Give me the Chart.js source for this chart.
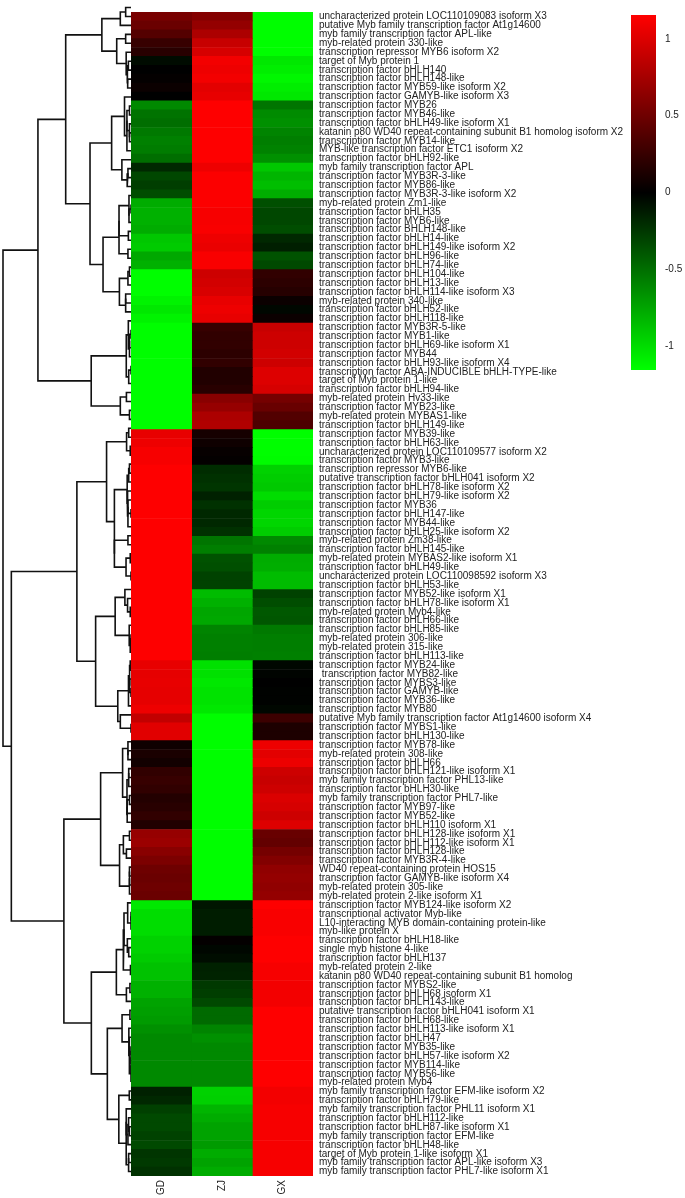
<!DOCTYPE html>
<html>
<head>
<meta charset="utf-8">
<script src="https://cdn.jsdelivr.net/npm/chart.js@4.4.1/dist/chart.umd.min.js"></script>
<style>
  body { margin: 0; background: #fff; }
  #wrap { position: relative; width: 685px; height: 1198px; overflow: hidden; }
  canvas { position: absolute; }
</style>
</head>
<body>
<div id="wrap">
  <canvas id="dendro" width="132" height="1198" style="left:0;top:0"></canvas>
  <canvas id="heat" width="554" height="1198" style="left:131px;top:0"></canvas>
  <canvas id="cbar" width="60" height="400" style="left:625px;top:0"></canvas>
</div>
<script>
// ==============================
// DATA
// ==============================
const sampleNames = ["GD", "ZJ", "GX"];

const geneNames = [
  "uncharacterized protein LOC110109083 isoform X3",
  "putative Myb family transcription factor At1g14600",
  "myb family transcription factor APL-like",
  "myb-related protein 330-like",
  "transcription repressor MYB6 isoform X2",
  "target of Myb protein 1",
  "transcription factor bHLH140",
  "transcription factor bHLH148-like",
  "transcription factor MYB59-like isoform X2",
  "transcription factor GAMYB-like isoform X3",
  "transcription factor MYB26",
  "transcription factor MYB46-like",
  "transcription factor bHLH49-like isoform X1",
  "katanin p80 WD40 repeat-containing subunit B1 homolog isoform X2",
  "transcription factor MYB14-like",
  "MYB-like transcription factor ETC1 isoform X2",
  "transcription factor bHLH92-like",
  "myb family transcription factor APL",
  "transcription factor MYB3R-3-like",
  "transcription factor MYB86-like",
  "transcription factor MYB3R-3-like isoform X2",
  "myb-related protein Zm1-like",
  "transcription factor bHLH35",
  "transcription factor MYB6-like",
  "transcription factor BHLH148-like",
  "transcription factor bHLH14-like",
  "transcription factor bHLH149-like isoform X2",
  "transcription factor bHLH96-like",
  "transcription factor bHLH74-like",
  "transcription factor bHLH104-like",
  "transcription factor bHLH13-like",
  "transcription factor bHLH114-like isoform X3",
  "myb-related protein 340-like",
  "transcription factor bHLH52-like",
  "transcription factor bHLH118-like",
  "transcription factor MYB3R-5-like",
  "transcription factor MYB1-like",
  "transcription factor bHLH69-like isoform X1",
  "transcription factor MYB44",
  "transcription factor bHLH93-like isoform X4",
  "transcription factor ABA-INDUCIBLE bHLH-TYPE-like",
  "target of Myb protein 1-like",
  "transcription factor bHLH94-like",
  "myb-related protein Hv33-like",
  "transcription factor MYB23-like",
  "myb-related protein MYBAS1-like",
  "transcription factor bHLH149-like",
  "transcription factor MYB39-like",
  "transcription factor bHLH63-like",
  "uncharacterized protein LOC110109577 isoform X2",
  "transcription factor MYB3-like",
  "transcription repressor MYB6-like",
  "putative transcription factor bHLH041 isoform X2",
  "transcription factor bHLH78-like isoform X2",
  "transcription factor bHLH79-like isoform X2",
  "transcription factor MYB36",
  "transcription factor bHLH147-like",
  "transcription factor MYB44-like",
  "transcription factor bHLH25-like isoform X2",
  "myb-related protein Zm38-like",
  "transcription factor bHLH145-like",
  "myb-related protein MYBAS2-like isoform X1",
  "transcription factor bHLH49-like",
  "uncharacterized protein LOC110098592 isoform X3",
  "transcription factor bHLH53-like",
  "transcription factor MYB52-like isoform X1",
  "transcription factor bHLH78-like isoform X1",
  "myb-related protein Myb4-like",
  "transcription factor bHLH66-like",
  "transcription factor bHLH85-like",
  "myb-related protein 306-like",
  "myb-related protein 315-like",
  "transcription factor bHLH113-like",
  "transcription factor MYB24-like",
  " transcription factor MYB82-like",
  "transcription factor MYBS3-like",
  "transcription factor GAMYB-like",
  "transcription factor MYB36-like",
  "transcription factor MYB80",
  "putative Myb family transcription factor At1g14600 isoform X4",
  "transcription factor MYBS1-like",
  "transcription factor bHLH130-like",
  "transcription factor MYB78-like",
  "myb-related protein 308-like",
  "transcription factor bHLH66",
  "transcription factor bHLH121-like isoform X1",
  "myb family transcription factor PHL13-like",
  "transcription factor bHLH30-like",
  "myb family transcription factor PHL7-like",
  "transcription factor MYB97-like",
  "transcription factor MYB52-like",
  "transcription factor bHLH110 isoform X1",
  "transcription factor bHLH128-like isoform X1",
  "transcription factor bHLH112-like isoform X1",
  "transcription factor bHLH128-like",
  "transcription factor MYB3R-4-like",
  "WD40 repeat-containing protein HOS15",
  "transcription factor GAMYB-like isoform X4",
  "myb-related protein 305-like",
  "myb-related protein 2-like isoform X1",
  "transcription factor MYB124-like isoform X2",
  "transcriptional activator Myb-like",
  "L10-interacting MYB domain-containing protein-like",
  "myb-like protein X",
  "transcription factor bHLH18-like",
  "single myb histone 4-like",
  "transcription factor bHLH137",
  "myb-related protein 2-like",
  "katanin p80 WD40 repeat-containing subunit B1 homolog",
  "transcription factor MYBS2-like",
  "transcription factor bHLH68 isoform X1",
  "transcription factor bHLH143-like",
  "putative transcription factor bHLH041 isoform X1",
  "transcription factor bHLH68-like",
  "transcription factor bHLH113-like isoform X1",
  "transcription factor bHLH47",
  "transcription factor MYB35-like",
  "transcription factor bHLH57-like isoform X2",
  "transcription factor MYB114-like",
  "transcription factor MYB56-like",
  "myb-related protein Myb4",
  "myb family transcription factor EFM-like isoform X2",
  "transcription factor bHLH79-like",
  "myb family transcription factor PHL11 isoform X1",
  "transcription factor bHLH112-like",
  "transcription factor bHLH87-like isoform X1",
  "myb family transcription factor EFM-like",
  "transcription factor bHLH48-like",
  "target of Myb protein 1-like isoform X1",
  "myb family transcription factor APL-like isoform X3",
  "myb family transcription factor PHL7-like isoform X1"
];

const gdValues = [
  0.55, 0.48, 0.38, 0.25, 0.18, -0.05, 0.00, 0.02, 0.05, 0.00,
  -0.62, -0.52, -0.50, -0.55, -0.58, -0.56, -0.50, -0.18, -0.32, -0.28,
  -0.35, -0.78, -0.80, -0.80, -0.78, -0.90, -0.92, -0.76, -0.80, -1.15,
  -1.15, -1.15, -1.10, -1.05, -1.10, -1.15, -1.15, -1.15, -1.15, -1.15,
  -1.15, -1.15, -1.15, -1.15, -1.15, -1.15, -1.15, 1.05, 1.08, 1.12,
  1.12, 1.15, 1.15, 1.15, 1.15, 1.15, 1.15, 1.15, 1.15, 1.15,
  1.15, 1.15, 1.15, 1.15, 1.15, 1.15, 1.15, 1.15, 1.15, 1.15,
  1.15, 1.15, 1.15, 1.05, 1.04, 1.05, 1.04, 1.04, 1.08, 0.88,
  1.02, 1.02, 0.07, 0.12, 0.08, 0.22, 0.25, 0.22, 0.16, 0.18,
  0.22, 0.15, 0.68, 0.70, 0.62, 0.56, 0.50, 0.48, 0.50, 0.48,
  -1.05, -1.00, -1.00, -1.00, -0.95, -0.95, -0.92, -0.88, -0.88, -0.80,
  -0.80, -0.74, -0.72, -0.70, -0.65, -0.62, -0.62, -0.62, -0.62, -0.62,
  -0.62, -0.15, -0.18, -0.29, -0.33, -0.33, -0.30, -0.33, -0.24, -0.26,
  -0.22
];

const zjValues = [
  0.60, 0.67, 0.78, 0.90, 0.97, 1.10, 1.08, 1.10, 1.03, 1.05,
  1.15, 1.15, 1.15, 1.15, 1.15, 1.15, 1.15, 1.08, 1.14, 1.14,
  1.14, 1.14, 1.12, 1.12, 1.13, 1.08, 1.06, 1.13, 1.13, 0.93,
  0.95, 0.98, 1.05, 1.08, 1.05, 0.25, 0.22, 0.22, 0.20, 0.22,
  0.15, 0.15, 0.18, 0.62, 0.68, 0.78, 0.80, 0.10, 0.07, 0.03,
  0.02, -0.20, -0.22, -0.24, -0.15, -0.22, -0.18, -0.18, -0.22, -0.53,
  -0.57, -0.37, -0.36, -0.30, -0.30, -0.85, -0.80, -0.75, -0.76, -0.60,
  -0.58, -0.58, -0.57, -1.02, -1.02, -1.05, -1.03, -1.03, -1.05, -1.15,
  -1.15, -1.15, -1.15, -1.15, -1.15, -1.15, -1.15, -1.15, -1.15, -1.15,
  -1.15, -1.15, -1.15, -1.15, -1.15, -1.15, -1.15, -1.15, -1.15, -1.15,
  -0.10, -0.13, -0.13, -0.13, 0.02, -0.03, -0.06, -0.15, -0.16, -0.26,
  -0.28, -0.33, -0.48, -0.48, -0.60, -0.65, -0.62, -0.62, -0.62, -0.62,
  -0.62, -0.95, -0.94, -0.82, -0.78, -0.74, -0.74, -0.70, -0.78, -0.74,
  -0.78
];

const gxValues = [
  -1.15, -1.15, -1.15, -1.15, -1.15, -1.05, -1.08, -1.12, -1.08, -1.05,
  -0.53, -0.63, -0.65, -0.60, -0.57, -0.59, -0.65, -0.90, -0.82, -0.86,
  -0.79, -0.36, -0.32, -0.32, -0.35, -0.18, -0.14, -0.37, -0.33, 0.22,
  0.20, 0.17, 0.05, -0.03, 0.05, 0.90, 0.93, 0.93, 0.95, 0.93,
  1.00, 1.00, 0.97, 0.53, 0.47, 0.37, 0.35, -1.15, -1.15, -1.15,
  -1.14, -0.95, -0.93, -0.91, -1.00, -0.93, -0.97, -0.97, -0.93, -0.62,
  -0.58, -0.78, -0.79, -0.85, -0.85, -0.30, -0.35, -0.40, -0.39, -0.55,
  -0.57, -0.57, -0.58, -0.03, -0.02, 0.00, -0.01, -0.01, -0.03, 0.27,
  0.13, 0.13, 1.08, 1.03, 1.07, 0.93, 0.90, 0.93, 0.99, 0.97,
  0.93, 1.00, 0.47, 0.45, 0.53, 0.59, 0.65, 0.67, 0.65, 0.67,
  1.15, 1.13, 1.13, 1.13, 1.15, 1.15, 1.15, 1.12, 1.12, 1.10,
  1.10, 1.10, 1.15, 1.15, 1.15, 1.15, 1.15, 1.15, 1.15, 1.15,
  1.15, 1.10, 1.10, 1.12, 1.12, 1.12, 1.12, 1.12, 1.12, 1.12,
  1.12
];

const colorbarTicks = [-1, -0.5, 0, 0.5, 1];
const colorLimit = 1.155;

// ==============================
// HELPERS
// ==============================
const FONT = { family: "'Liberation Sans', Arial, sans-serif", size: 10 };
const TEXT = "#222";

function colorFor(v) {
  const t = Math.max(-1, Math.min(1, v / colorLimit));
  const c = Math.round(Math.abs(t) * 255);
  return t >= 0 ? `rgb(${c},0,0)` : `rgb(0,${c},0)`;
}

// order-preserving average linkage clustering for the row tree
function buildRowTree(rows) {
  let clusters = rows.map((r, i) => ({ members: [i], h: 0, y: i + 1 }));
  const merges = [];
  const dist = (a, b) => {
    let s = 0;
    a.members.forEach(i => b.members.forEach(j => {
      let d = 0;
      for (let k = 0; k < rows[i].length; k++) d += (rows[i][k] - rows[j][k]) ** 2;
      s += Math.sqrt(d);
    }));
    return s / (a.members.length * b.members.length);
  };
  while (clusters.length > 1) {
    let best = 0, bestD = Infinity;
    for (let i = 0; i < clusters.length - 1; i++) {
      const d = dist(clusters[i], clusters[i + 1]);
      if (d < bestD) { bestD = d; best = i; }
    }
    const a = clusters[best], b = clusters[best + 1];
    const h = Math.max(bestD, a.h, b.h);
    merges.push({ a, b, h });
    clusters.splice(best, 2, { members: a.members.concat(b.members), h, y: (a.y + b.y) / 2 });
  }
  return { merges, rootH: clusters[0].h };
}

// ==============================
// HEATMAP
// ==============================
const valueCols = [gdValues, zjValues, gxValues];

new Chart(document.getElementById("heat"), {
  type: "bar",
  data: {
    labels: geneNames,
    datasets: sampleNames.map((s, j) => ({
      label: s,
      data: geneNames.map(() => 1),
      backgroundColor: valueCols[j].map(colorFor),
      borderWidth: 0,
      barPercentage: 1,
      categoryPercentage: 1
    }))
  },
  options: {
    indexAxis: "y",
    responsive: false,
    animation: false,
    events: [],
    layout: { autoPadding: false, padding: { top: 3, left: 0, right: 0, bottom: 0 } },
    plugins: { legend: { display: false }, tooltip: { enabled: false } },
    scales: {
      x: {
        stacked: true, min: 0, max: 3,
        grid: { display: false, drawTicks: false }, border: { display: false },
        afterBuildTicks: s => { s.ticks = sampleNames.map((_, i) => ({ value: i + 0.5 })); },
        ticks: { callback: (v, i) => sampleNames[i], minRotation: 90, maxRotation: 90, font: FONT, color: TEXT, padding: 4 },
        afterFit: s => { s.height = 22; }
      },
      y: {
        stacked: true, position: "right",
        grid: { display: false, drawTicks: false }, border: { display: false },
        ticks: { autoSkip: false, font: FONT, color: TEXT, padding: 6 },
        afterFit: s => { s.width = 372; }
      }
    }
  }
});

// ==============================
// DENDROGRAM
// ==============================
const tree = buildRowTree(geneNames.map((_, i) => [gdValues[i], zjValues[i], gxValues[i]]));

new Chart(document.getElementById("dendro"), {
  type: "scatter",
  data: {
    datasets: tree.merges.map(m => ({
      data: [
        { x: m.a.h, y: m.a.y }, { x: m.h, y: m.a.y },
        { x: m.h, y: m.b.y }, { x: m.b.h, y: m.b.y }
      ],
      showLine: true, borderColor: "#111", borderWidth: 1.6,
      pointRadius: 0, clip: false
    }))
  },
  options: {
    responsive: false,
    animation: false,
    events: [],
    layout: { autoPadding: false, padding: { top: 3, left: 3, right: 1, bottom: 22 } },
    plugins: { legend: { display: false }, tooltip: { enabled: false } },
    scales: {
      x: { type: "linear", reverse: true, min: 0, max: tree.rootH, display: false },
      y: { type: "linear", reverse: true, min: 0.5, max: geneNames.length + 0.5, display: false }
    }
  }
});

// ==============================
// COLOR KEY
// ==============================
new Chart(document.getElementById("cbar"), {
  type: "bar",
  data: {
    labels: [""],
    datasets: [{
      data: [[-colorLimit, colorLimit]],
      borderWidth: 0,
      barPercentage: 1,
      categoryPercentage: 1,
      backgroundColor: ctx => {
        const a = ctx.chart.chartArea;
        if (!a) return "#000";
        const g = ctx.chart.ctx.createLinearGradient(0, a.bottom, 0, a.top);
        g.addColorStop(0, "rgb(0,255,0)");
        g.addColorStop(0.5, "rgb(0,0,0)");
        g.addColorStop(1, "rgb(255,0,0)");
        return g;
      }
    }]
  },
  options: {
    responsive: false,
    animation: false,
    events: [],
    layout: { autoPadding: false, padding: { top: 3, left: 6, right: 0, bottom: 30 } },
    plugins: { legend: { display: false }, tooltip: { enabled: false } },
    scales: {
      x: { display: false },
      y: {
        position: "right", min: -colorLimit, max: colorLimit,
        grid: { display: false, drawTicks: false }, border: { display: false },
        afterBuildTicks: s => { s.ticks = colorbarTicks.map(v => ({ value: v })); },
        ticks: { callback: v => String(v), font: FONT, color: TEXT, padding: 9 },
        afterFit: s => { s.width = 29; }
      }
    }
  }
});
</script>
</body>
</html>
